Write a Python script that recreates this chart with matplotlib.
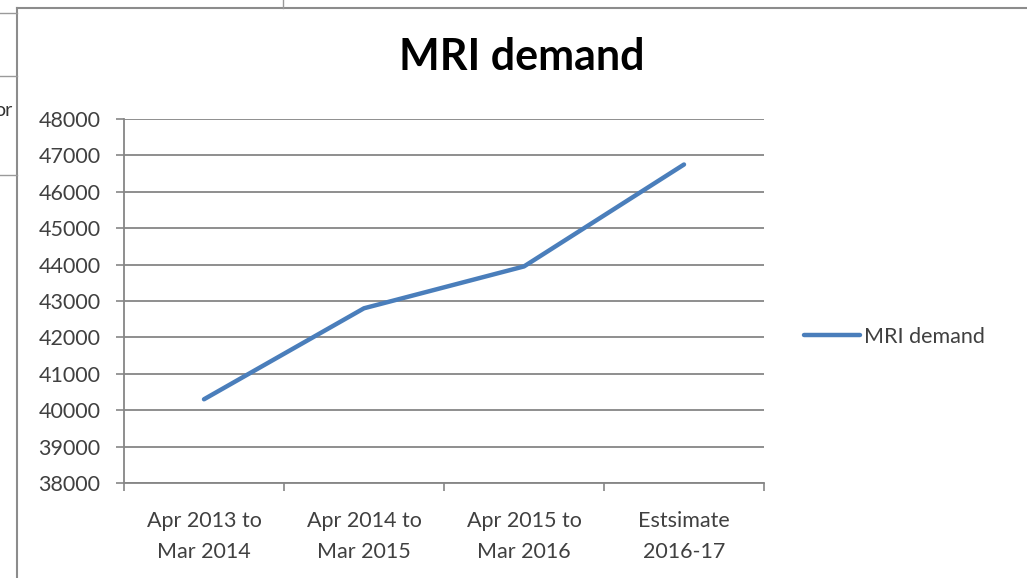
import matplotlib
matplotlib.use("Agg")
import matplotlib.pyplot as plt
from matplotlib.lines import Line2D

categories = ["Apr 2013 to\nMar 2014", "Apr 2014 to\nMar 2015", "Apr 2015 to\nMar 2016", "Estsimate\n2016-17"]
mri_demand = [40300, 42800, 43950, 46750]
y_ticks = list(range(38000, 48001, 1000))
title = "MRI demand"
series_name = "MRI demand"

plt.rcParams['font.family'] = ['Lato', 'DejaVu Sans']

W, H = 1027, 578
fig = plt.figure(figsize=(W / 100, H / 100), dpi=100)
fig.patch.set_facecolor("white")

def fx(px):
    return px / W

def fy(py):
    return 1 - py / H

border = "#9a9a9a"
# spreadsheet fragments
fig.add_artist(Line2D([fx(17), fx(1027)], [fy(8), fy(8)], color="#8c8c8c", lw=1.5))
fig.add_artist(Line2D([fx(17), fx(17)], [fy(8), fy(578)], color="#8c8c8c", lw=1.5))
fig.add_artist(Line2D([fx(283), fx(283)], [fy(0), fy(8)], color=border, lw=1))
for yy in (13, 76, 175):
    fig.add_artist(Line2D([fx(0), fx(17)], [fy(yy), fy(yy)], color=border, lw=1))
fig.text(fx(12), fy(111), "or", ha="right", va="center", fontsize=14, color="#333333")

ax = fig.add_axes([fx(124), fy(483), fx(764 - 124), (483 - 119) / H])
x = list(range(len(categories)))
ax.plot(x, mri_demand, color="#4a7ebb", lw=3.2, solid_capstyle="round", label=series_name, zorder=3)
ax.set_xlim(-0.5, len(categories) - 0.5)
ax.set_ylim(y_ticks[0], y_ticks[-1])
ax.set_yticks(y_ticks)
ax.set_yticklabels([str(v) for v in y_ticks])
ax.set_xticks([i - 0.5 for i in range(len(categories) + 1)])
ax.set_xticklabels([])
ax.set_xticks(x, minor=True)
ax.set_xticklabels(categories, minor=True, fontsize=15.5, color="#404040", linespacing=1.68)
ax.tick_params(axis="x", which="minor", length=0, pad=20)
ax.tick_params(axis="x", which="major", length=6, width=1.2, color="#868686", direction="out")
ax.tick_params(axis="y", length=6, width=1.2, color="#868686", direction="out", labelsize=15.5, labelcolor="#404040", pad=11)
ax.grid(axis="y", color="#868686", lw=1.3)
ax.set_axisbelow(True)
for s in ("top", "right"):
    ax.spines[s].set_visible(False)
for s in ("left", "bottom"):
    ax.spines[s].set_color("#868686")
    ax.spines[s].set_linewidth(1.3)

fig.text(fx(522), fy(57), title, ha="center", va="center", fontsize=31, fontweight="bold", color="black")

leg = fig.legend(loc="center left", bbox_to_anchor=(fx(804), fy(337)), frameon=False, fontsize=15.5,
                 handlelength=2.6, handletextpad=0.2, borderpad=0, borderaxespad=0)
for t in leg.get_texts():
    t.set_color("#404040")

fig.savefig("out.png", dpi=100, facecolor="white")
